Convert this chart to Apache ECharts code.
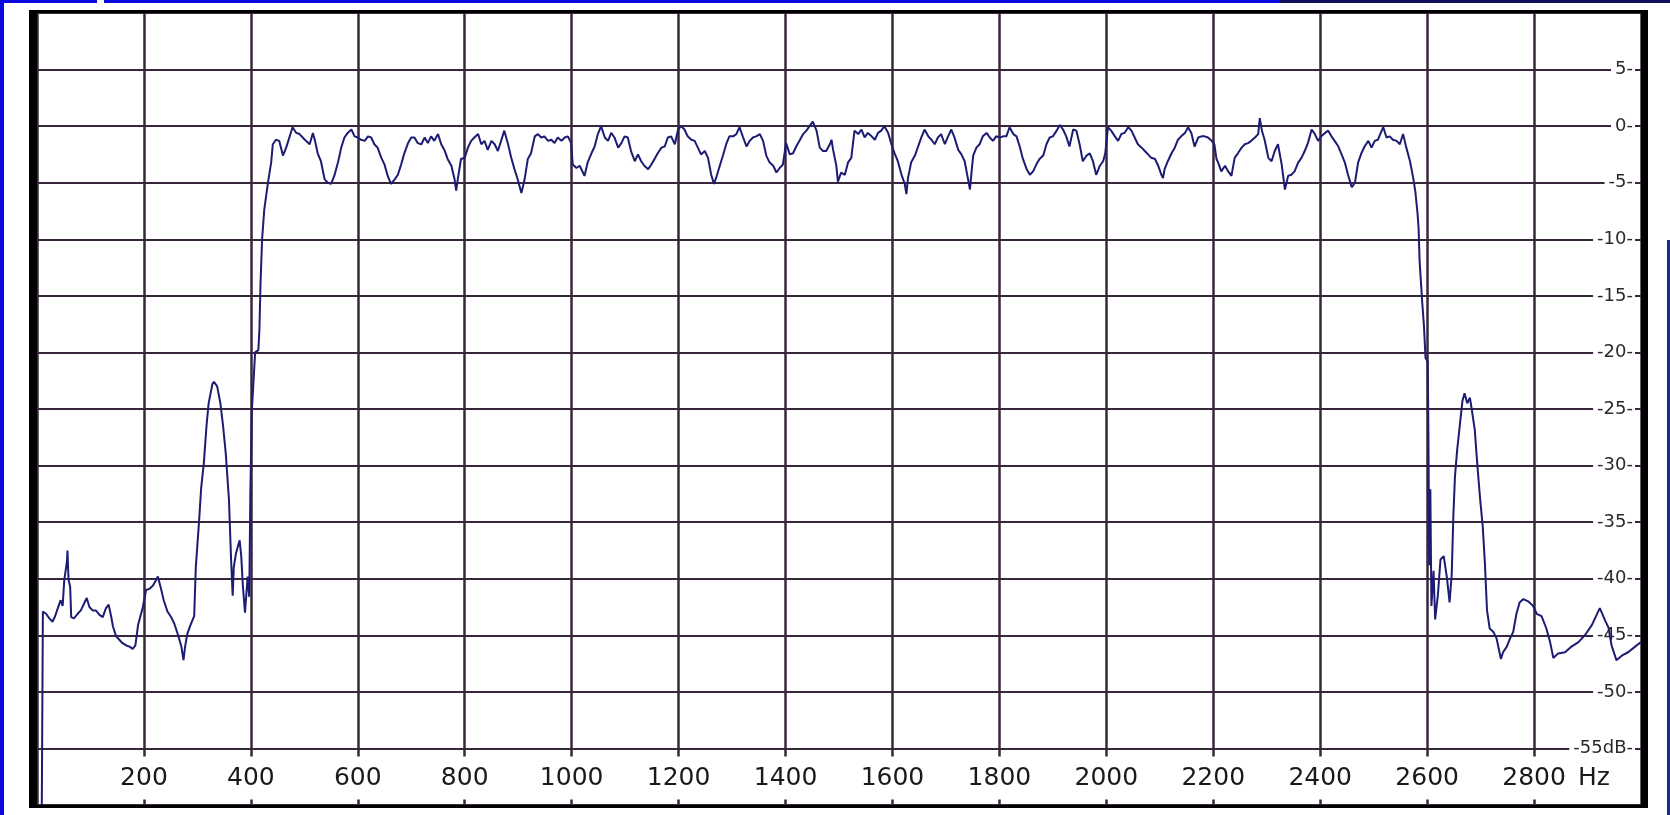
<!DOCTYPE html>
<html>
<head>
<meta charset="utf-8">
<script src="https://cdn.jsdelivr.net/npm/echarts@6.0.0/dist/echarts.min.js"></script>
<style>
  html, body { margin: 0; padding: 0; background: #ffffff; }
  #chart { width: 1670px; height: 815px; }
</style>
</head>
<body>
<div id="chart"></div>
<script>
// Frequency axis (Hz) and level axis (dB)
const xTicks = [200, 400, 600, 800, 1000, 1200, 1400, 1600, 1800, 2000, 2200, 2400, 2600, 2800];
const yTicks = [5, 0, -5, -10, -15, -20, -25, -30, -35, -40, -45, -50, -55];

// Measured response: frequency (Hz)
const freqHz = [
  9, 11, 17, 23, 29, 34, 39, 44, 48, 51, 56, 57, 59, 62, 64, 69, 76, 82, 89, 93, 98, 104, 110, 117, 123, 129, 134, 139, 142, 148,
  154, 160, 167, 173, 179, 184, 189, 194, 198, 204, 210, 217, 223, 226, 231, 237, 244, 251, 257, 264, 270, 274, 277, 281, 287, 294,
  297, 303, 307, 312, 317, 321, 328, 331, 337, 340, 343, 348, 353, 359, 363, 366, 368, 372, 379, 382, 385, 389, 394, 397, 399, 402,
  408, 414, 416, 418, 421,
  425, 432, 438, 441, 447, 453, 460, 466, 472, 478, 485, 491, 497, 503, 510, 516, 520, 525, 531, 538, 544, 550, 556, 563, 569, 575,
  581, 588, 594, 600, 606, 613, 619, 625, 631, 637, 644, 650, 656, 662, 669, 675, 681, 687, 694, 700, 706, 712, 719, 725, 731, 737,
  743, 750, 756, 762, 768, 775, 781, 784, 787, 793, 800, 806, 812, 818, 825, 831, 837, 843, 850, 856, 862, 868, 874, 881, 887, 893,
  899, 906, 912, 918, 924, 931, 937, 943, 949, 956, 962, 968, 974, 981, 987, 993, 999, 1002, 1009, 1015, 1021, 1024, 1030, 1037,
  1043, 1049, 1055, 1062, 1068, 1074, 1080, 1087, 1093, 1099, 1105, 1111, 1118, 1124,
  1130, 1136, 1143, 1149, 1155, 1161, 1168, 1174, 1180, 1186, 1193, 1199, 1205, 1211, 1217, 1224, 1230, 1236, 1242, 1249, 1255,
  1261, 1266, 1270, 1277, 1283, 1289, 1295, 1302, 1308, 1314, 1320, 1327, 1333, 1339, 1345, 1352, 1358, 1364, 1370, 1377, 1383,
  1389, 1395, 1401, 1408, 1414, 1420, 1426, 1433, 1439, 1445, 1451, 1458, 1464, 1470, 1476, 1483, 1486, 1489, 1495, 1498, 1504,
  1511, 1517, 1523, 1529, 1536, 1542, 1548, 1554, 1561, 1567, 1573, 1579, 1585, 1592, 1598, 1604, 1610, 1617, 1623, 1626, 1629,
  1635, 1642, 1648, 1654, 1660, 1667, 1673, 1679, 1685, 1691, 1698, 1704, 1710, 1716, 1723, 1729, 1735, 1741, 1745, 1748, 1751,
  1757, 1763, 1769, 1776, 1782, 1788, 1794, 1801, 1807, 1813, 1819, 1826, 1832, 1838, 1844, 1851, 1857,
  1863, 1869, 1875, 1882, 1888, 1894, 1900, 1907, 1913, 1919, 1925, 1931, 1938, 1944, 1950, 1956, 1963, 1969, 1975, 1981, 1988,
  1994, 1998, 2003, 2009, 2016, 2022, 2028, 2034, 2041, 2047, 2053, 2059, 2066, 2072, 2078, 2084, 2091, 2097, 2103, 2106, 2109,
  2115, 2122, 2128, 2134, 2140, 2147, 2153, 2159, 2165, 2172, 2178, 2184, 2190, 2197, 2202, 2206, 2209, 2215, 2222, 2228, 2234,
  2240, 2246, 2253, 2259, 2265, 2271, 2278, 2284, 2287, 2291, 2296, 2303, 2309, 2315, 2321, 2328, 2334, 2340, 2346, 2352, 2359,
  2365, 2371, 2377, 2384, 2390, 2396, 2402, 2409, 2415, 2421, 2427, 2434, 2440, 2446, 2452, 2459, 2465, 2471, 2477, 2483, 2490,
  2496, 2502, 2508, 2515, 2518, 2524, 2530, 2536, 2543, 2549, 2555, 2561, 2568, 2574,
  2578, 2582, 2584, 2586, 2591, 2594, 2597, 2601, 2602, 2604, 2606, 2608, 2612, 2615, 2620, 2625, 2631, 2637, 2642, 2646, 2649,
  2652, 2656, 2661, 2666, 2670, 2675, 2680, 2684, 2689, 2694, 2699, 2704, 2708, 2712, 2717, 2724, 2730, 2738, 2742, 2749, 2755,
  2761, 2767, 2773, 2780, 2789, 2798, 2805, 2814, 2823, 2830, 2836, 2845, 2858, 2870, 2883, 2895, 2908, 2917, 2923, 2933, 2939,
  2945, 2954, 2964, 2976, 2989, 3000
];

// Measured response: level (dB)
const levelDb = [
  -60, -42.9, -43.1, -43.5, -43.8, -43.3, -42.6, -41.9, -42.4, -40.1, -38.5, -37.5, -40.1, -40.7, -43.4, -43.5, -43.1, -42.8, -42.1, -41.7, -42.5, -42.8, -42.8, -43.2, -43.4, -42.6, -42.3, -43.4, -44.2, -45.1,
  -45.4, -45.7, -45.9, -46.0, -46.2, -45.9, -44.1, -43.2, -42.5, -41.0, -40.9, -40.6, -40.1, -39.8, -40.7, -41.9, -42.9, -43.4, -44.0, -45.0, -46.0, -47.2, -46.0, -44.9, -44.1, -43.3,
  -39.0, -35.0, -32.0, -29.8, -26.5, -24.5, -22.8, -22.6, -23.0, -23.0, -24.5, -26.5, -28.9, -33.0, -38.3, -41.5, -39.0, -37.8, -36.6, -38.0, -40.6, -43.0, -39.8, -41.6, -32.5, -25.0,
  -20.0, -19.8, -18.0, -14.0, -10.0,
  -7.4, -5.0, -3.2, -1.6, -1.2, -1.3, -2.6, -1.9, -1.0, -0.1, -0.6, -0.7, -1.0, -1.3, -1.6, -0.6, -1.3, -2.4, -3.1, -4.7, -5.0, -5.1, -4.4, -3.2, -1.9, -1.0,
  -0.6, -0.3, -0.9, -1.0, -1.2, -1.3, -0.9, -1.0, -1.6, -1.9, -2.8, -3.4, -4.4, -5.1, -4.7, -4.3, -3.4, -2.4, -1.5, -1.0, -1.0, -1.5, -1.6, -1.0, -1.5, -0.9,
  -1.3, -0.7, -1.6, -2.1, -2.9, -3.5, -4.7, -5.7, -4.7, -2.9, -2.8, -1.9, -1.3, -1.0, -0.7, -1.6, -1.3, -2.1, -1.3, -1.6, -2.2, -1.3, -0.4, -1.6, -2.8, -3.8,
  -4.7, -5.9, -4.7, -2.9, -2.4, -0.9, -0.7, -1.0, -0.9, -1.3, -1.2, -1.5, -1.0, -1.3, -1.0, -0.9, -1.5, -3.4, -3.7, -3.5, -4.1, -4.4, -3.2, -2.4,
  -1.8, -0.7, 0.0, -1.0, -1.3, -0.6, -1.0, -1.9, -1.5, -0.9, -1.0, -2.2, -3.1, -2.5,
  -3.1, -3.5, -3.8, -3.4, -2.9, -2.4, -1.9, -1.8, -1.0, -0.9, -1.6, -0.3, 0.0, -0.3, -0.9, -1.2, -1.3, -1.9, -2.5, -2.2, -2.8,
  -4.3, -5.1, -4.6, -3.5, -2.6, -1.6, -0.9, -0.9, -0.7, -0.1, -0.9, -1.8, -1.3, -1.0, -0.9, -0.7, -1.3, -2.6, -3.2, -3.5, -4.1,
  -3.7, -3.4, -1.5, -2.5, -2.4, -1.8, -1.3, -0.7, -0.4, 0.0, 0.4, -0.4, -1.9, -2.2, -2.2, -1.6, -1.2, -2.1, -3.5, -4.9, -4.1,
  -4.3, -3.2, -2.8, -0.4, -0.7, -0.3, -1.0, -0.6, -0.9, -1.2, -0.6, -0.4, 0.0, -0.6, -1.6, -2.4, -3.1, -4.3, -5.1, -6.0, -4.6,
  -3.2, -2.6, -1.8, -1.0, -0.3, -0.9, -1.2, -1.6, -1.0, -0.7, -1.6, -0.9, -0.3, -1.0, -2.1, -2.5, -3.1, -4.6, -5.6, -4.0, -2.6,
  -1.9, -1.6, -0.9, -0.6, -1.0, -1.3, -0.9, -1.0, -0.9, -0.9, -0.1, -0.7, -0.9, -1.8, -2.9, -3.8, -4.3,
  -4.0, -3.4, -2.9, -2.6, -1.6, -1.0, -0.9, -0.4, 0.1, -0.3, -0.9, -1.8, -0.3, -0.4, -1.6, -3.1, -2.6, -2.4, -3.1, -4.3, -3.5,
  -3.1, -2.4, -0.1, -0.4, -0.9, -1.3, -0.7, -0.6, -0.1, -0.4, -1.0, -1.6, -1.9, -2.2, -2.5, -2.8, -2.9, -3.5, -4.3, -4.6, -3.8,
  -3.1, -2.4, -1.9, -1.2, -0.9, -0.6, -0.1, -0.6, -1.8, -1.0, -0.9, -0.9, -1.0, -1.3, -1.6, -2.9, -3.2, -4.0, -3.5, -4.0, -4.4,
  -2.8, -2.4, -1.9, -1.6, -1.5, -1.3, -1.0, -0.7, 0.7, -0.4, -1.2, -2.8, -3.1, -2.2, -1.6, -3.4, -5.6, -4.4, -4.3, -4.0, -3.2,
  -2.8, -2.2, -1.5, -0.3, -0.7, -1.3, -0.9, -0.6, -0.4, -0.9, -1.3, -1.8, -2.5, -3.2, -4.3, -5.4, -5.0, -3.2, -2.4, -1.8, -1.3,
  -1.9, -1.3, -1.2, -0.4, -0.1, -1.0, -0.9, -1.2, -1.3, -1.6, -0.7, -1.9, -3.1, -4.6,
  -5.8, -7.7, -9.0, -12.0, -15.7, -17.6, -20.5, -20.8, -24.9, -38.8, -32.1, -42.4, -39.3, -43.6, -41.5, -38.3, -38.0, -39.9, -42.1, -39.6, -34.5,
  -31.0, -28.7, -26.5, -24.3, -23.6, -24.5, -24.0, -25.2, -26.8, -30.0, -32.9, -35.4, -38.6, -42.8, -44.4, -44.7, -45.3, -47.1, -46.5, -46.0, -45.3,
  -44.7, -43.1, -42.1, -41.8, -42.0, -42.4, -43.1, -43.3, -44.4, -45.6, -47.0, -46.6, -46.5, -46.0, -45.6, -45.0, -44.1, -43.2, -42.6, -43.7, -44.3,
  -45.9, -47.2, -46.8, -46.5, -46.0, -45.6
];

const seriesData = freqHz.map((f, i) => [f, levelDb[i]]);

const chart = echarts.init(document.getElementById('chart'), null, { renderer: 'canvas' });
const gridColor = '#38263a';
const frameColor = '#000000';

chart.setOption({
  backgroundColor: '#ffffff',
  animation: false,
  grid: { left: 37, right: 29, top: 13, bottom: 10, containLabel: false },
  xAxis: {
    type: 'value',
    min: 0,
    max: 3000,
    interval: 200,
    axisLine: { show: false },
    axisTick: { show: false },
    splitLine: { show: true, lineStyle: { color: gridColor, width: 2.5 } },
    axisLabel: {
      inside: true,
      margin: 27,
      verticalAlign: 'middle',
      showMinLabel: false,
      showMaxLabel: false,
      fontFamily: 'DejaVu Sans',
      fontSize: 25,
      color: '#1a1a1a',
      backgroundColor: '#ffffff',
      padding: [10, 3, 8, 3],
      formatter: v => (xTicks.indexOf(v) >= 0 ? String(v) : '')
    }
  },
  yAxis: {
    type: 'value',
    position: 'right',
    min: -60,
    max: 10,
    interval: 5,
    axisLine: { show: false },
    axisTick: { show: false },
    splitLine: { show: true, lineStyle: { color: gridColor, width: 2 } },
    axisLabel: {
      inside: true,
      margin: 6,
      showMinLabel: false,
      showMaxLabel: false,
      fontFamily: 'DejaVu Sans',
      fontSize: 18,
      color: '#2a2a2a',
      backgroundColor: '#ffffff',
      padding: [0, 2, 0, 4],
      formatter: v => {
        if (yTicks.indexOf(v) < 0) return '';
        return v === -55 ? '-55dB-' : v + '-';
      }
    }
  },
  series: [{
    type: 'line',
    data: seriesData,
    showSymbol: false,
    smooth: false,
    lineStyle: { color: '#1c1c74', width: 2 },
    z: 3
  }],
  graphic: [
    // slide decoration
    { type: 'rect', shape: { x: 0, y: 0, width: 4, height: 815 }, style: { fill: '#0a0ae0' }, z: 100 },
    { type: 'rect', shape: { x: 0, y: 0, width: 97, height: 3 }, style: { fill: '#0a0ae0' }, z: 100 },
    { type: 'rect', shape: { x: 104, y: 0, width: 1176, height: 3 }, style: { fill: '#0a0ae0' }, z: 100 },
    { type: 'rect', shape: { x: 1280, y: 0, width: 390, height: 3 }, style: { fill: '#10105a' }, z: 100 },
    { type: 'rect', shape: { x: 1667, y: 240, width: 3, height: 575 }, style: { fill: '#1a2a8a' }, z: 100 },
    // plot frame
    { type: 'rect', shape: { x: 29, y: 10, width: 8, height: 798 }, style: { fill: frameColor }, z: 100 },
    { type: 'rect', shape: { x: 29, y: 10, width: 1619, height: 3 }, style: { fill: frameColor }, z: 100 },
    { type: 'rect', shape: { x: 1641, y: 10, width: 7, height: 798 }, style: { fill: frameColor }, z: 100 },
    { type: 'rect', shape: { x: 29, y: 805, width: 1619, height: 3 }, style: { fill: frameColor }, z: 100 },
    // unit label
    { type: 'text', x: 1578, y: 778, style: { text: 'Hz', font: '25px "DejaVu Sans"', fill: '#1a1a1a', verticalAlign: 'middle', align: 'left' }, z: 100 }
  ]
});
</script>
</body>
</html>
